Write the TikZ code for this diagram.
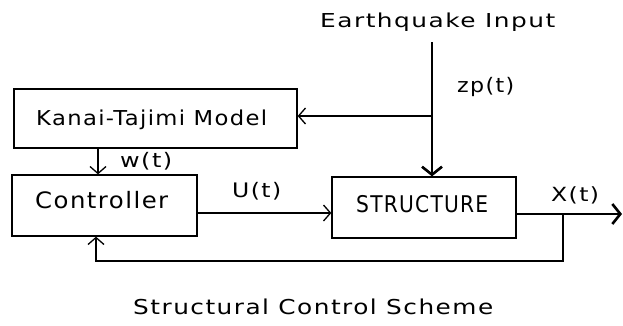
\documentclass[tikz,border=0pt]{standalone}
\usepackage{fontspec}
\usepackage{graphicx}
\setmainfont{DejaVu Sans}
\usetikzlibrary{arrows.meta}
\newcommand\fitw[3]{\fontsize{#2}{#2}\selectfont\resizebox{#1pt}{\height}{\addfontfeature{LetterSpace=6}#3}}
\begin{document}
\begin{tikzpicture}[x=1pt,y=-1pt,
  box/.style={draw,line width=1.3pt,inner sep=0pt},
  lbl/.style={inner sep=0pt,anchor=base west},
  thin/.style={line width=1.3pt},
  thick2/.style={line width=2.6pt},
  tip/.style={-{Straight Barb[length=7pt,width=16pt,line width=1.3pt]}},
  bigtip/.style={-{Straight Barb[length=8pt,width=20pt,line width=2.6pt]}}]
\path[use as bounding box] (0,0) rectangle (623,325);
% boxes
\node[box,minimum width=283pt,minimum height=59pt] (kanai) at (155.5,118.5) {};
\node[box,minimum width=185pt,minimum height=61pt] (ctrl) at (104.5,205.5) {};
\node[box,minimum width=184pt,minimum height=61pt] (struct) at (424,207.5) {};
% texts
\node[lbl] (kt) at (36,125) {\fitw{231}{20.5}{Kanai-Tajimi Model}};
\node[lbl] (ct) at (35,208) {\fitw{133}{22.6}{Controller}};
\node[lbl] (st) at (356,212) {\fitw{132}{23}{STRUCTURE}};
\node[lbl] (eq) at (320,27) {\fitw{235}{19.2}{Earthquake Input}};
\node[lbl] (zp) at (457,92.5) {\fitw{57}{20}{zp(t)}};
\node[lbl] (wt) at (120,167) {\fitw{52}{20}{w(t)}};
\node[lbl] (ut) at (232,197) {\fitw{49}{20}{U(t)}};
\node[lbl] (xt) at (551,201) {\fitw{48}{19.5}{X(t)}};
\node[lbl] (title) at (133,314) {\fitw{360}{20.5}{Structural Control Scheme}};
% coordinates
\coordinate (eqtop) at (432,42);
\coordinate (branch) at (432,116);
\coordinate (wx) at (98,0);
\coordinate (outend) at (622,214);
\coordinate (fbx) at (563,214);
\coordinate (fbbot) at (563,261);
\coordinate (fbl) at (96,261);
% connectors
\draw[thick2,bigtip] (eqtop) -- (eqtop |- struct.north);
\draw[thin,tip] (branch) -- (branch -| kanai.east);
\draw[thin,tip] (kanai.south -| wx) -- (ctrl.north -| wx);
\draw[thin,tip] (ctrl.east |- 0,213) -- (struct.west |- 0,213);
\draw[thick2,bigtip] (struct.east |- outend) -- (outend);
\draw[thin,tip] (fbx) -- (fbbot) -- (fbl) -- (fbl |- ctrl.south);
\end{tikzpicture}
\end{document}
